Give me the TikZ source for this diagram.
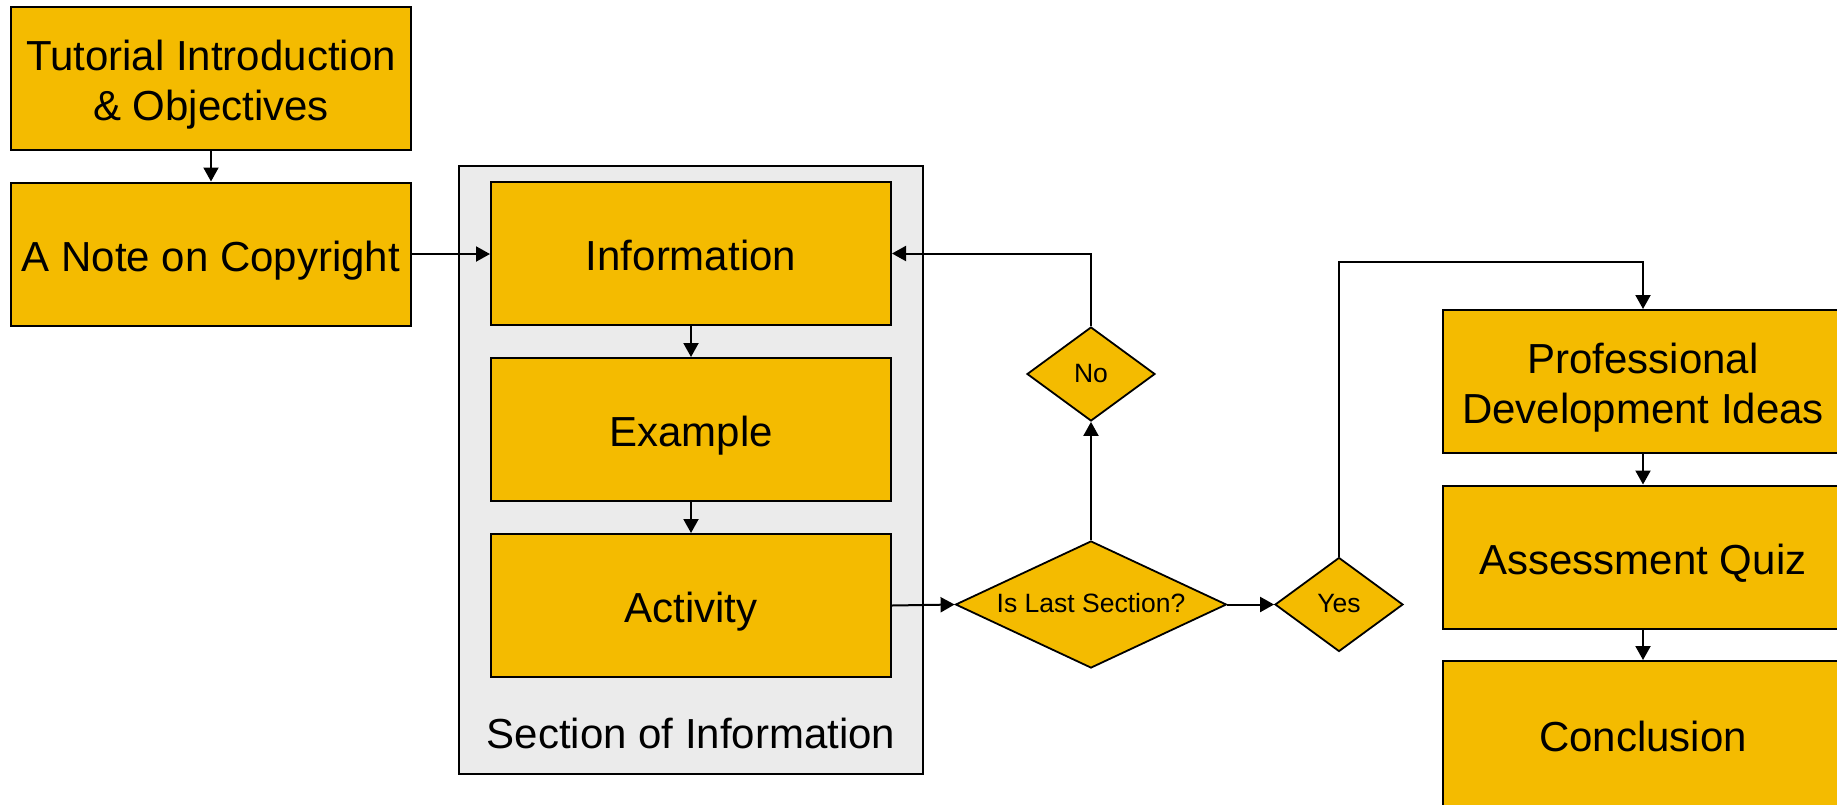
\documentclass[tikz,border=0pt]{standalone}
\usepackage{fontspec}
\setmainfont{Liberation Sans}
\usetikzlibrary{shapes.geometric,arrows.meta}
\definecolor{boxfill}{HTML}{F4BB00}
\definecolor{groupfill}{HTML}{EBEBEB}
\newcommand\capstrut{\rule[-9pt]{0pt}{52pt}}
\newcommand\smallstrut{\rule[-6pt]{0pt}{28pt}}
\newcommand\boxfont{\fontsize{42}{50}\selectfont\lineskiplimit=-50pt\relax}
\begin{document}
\begin{tikzpicture}[x=1pt,y=-1pt,
  box/.style={draw=black, line width=2pt, fill=boxfill, minimum width=400pt, minimum height=143pt, inner sep=0pt, align=center, font=\boxfont},
  group/.style={draw=black, line width=2pt, fill=groupfill, minimum width=464pt, minimum height=608pt, inner sep=0pt},
  grouplabel/.style={font=\boxfont, inner sep=0pt},
  dia/.style={diamond, draw=black, line width=1.8pt, fill=boxfill, inner sep=0pt, font=\fontsize{26.5}{30}\selectfont},
  smalldia/.style={dia, minimum width=128pt, minimum height=94pt, aspect=1.36},
  arr/.style={-{Triangle[length=14pt,width=15pt]}, line width=2pt}]
\useasboundingbox (0,0) rectangle (1837,804);
\node[box] (intro) at (211,78) {\capstrut Tutorial Introduction\\\capstrut\& Objectives};
\node[box] (copy) at (211,254) {\capstrut A Note on Copyright};
\node[group] (sec) at (691,470) {};
\node[grouplabel] (seclabel) at (691,731) {\capstrut Section of Information};
\node[box] (info) at (691,253.5) {\capstrut Information};
\node[box] (ex) at (691,429.5) {\capstrut Example};
\node[box] (act) at (691,605.5) {\capstrut Activity};
\node[dia, minimum width=271pt, minimum height=127pt, aspect=2.13] (last) at (1091,604.5) {\smallstrut Is Last Section?};
\node[smalldia] (no) at (1091,374) {\smallstrut No};
\node[smalldia] (yes) at (1339,604.5) {\smallstrut Yes};
\node[box] (prof) at (1643,381.5) {\capstrut Professional\\\capstrut Development Ideas};
\node[box] (quiz) at (1643,557) {\capstrut Assessment Quiz};
\node[box, minimum height=146pt] (conc) at (1643,734) {\capstrut Conclusion};
\draw[arr] (intro) -- (copy);
\draw[arr] (copy.east) -- (copy.east -| info.west);
\draw[arr] (info) -- (ex);
\draw[arr] (ex) -- (act);
\draw[arr] (act.east) -- (last.west);
\draw[arr] (last.north) -- (no.south);
\draw[arr] (no.north) |- (info.east);
\draw[arr] (last.east) -- (yes.west);
\draw[arr] (yes.north) -- ++(0,-295) -| (prof.north);
\draw[arr] (prof) -- (quiz);
\draw[arr] (quiz) -- (conc);
\end{tikzpicture}
\end{document}
